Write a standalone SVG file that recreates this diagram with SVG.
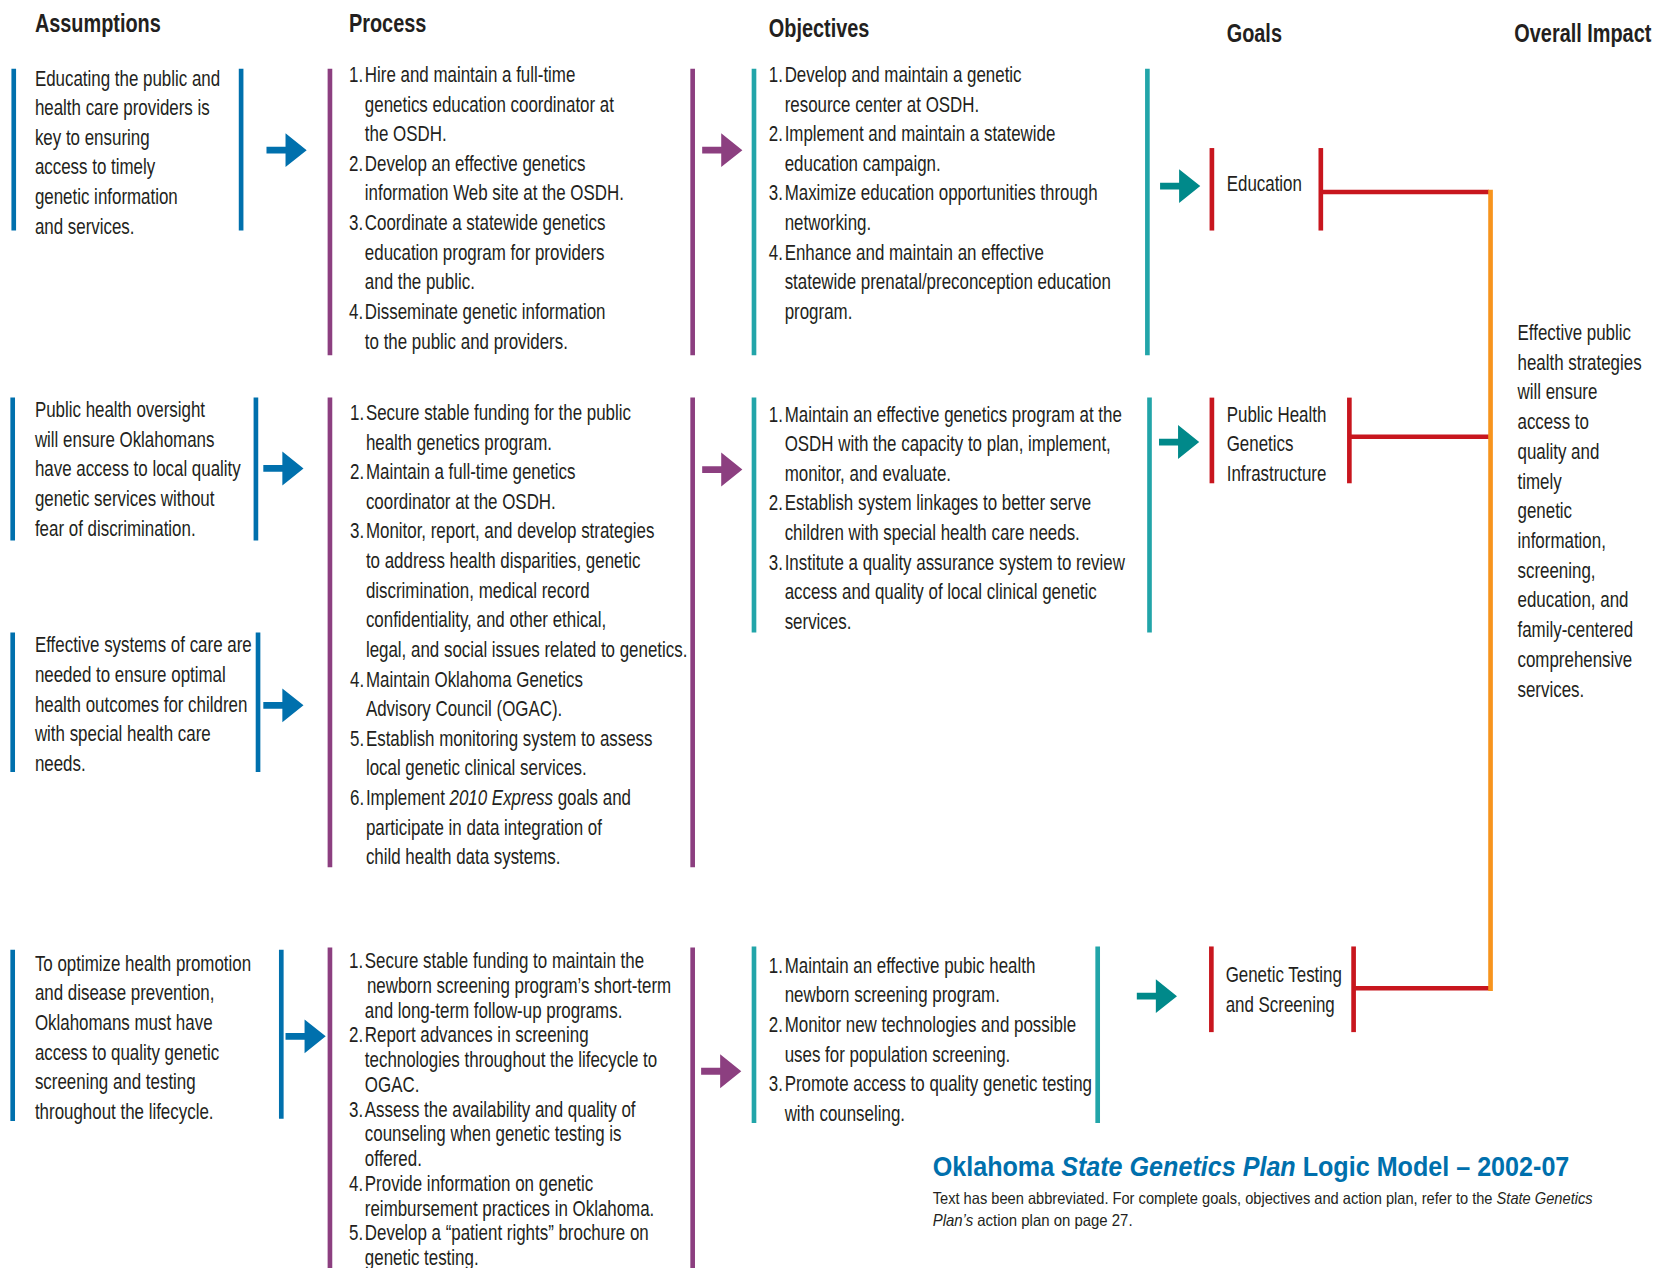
<svg xmlns="http://www.w3.org/2000/svg" width="1656" height="1268" viewBox="0 0 1656 1268">
<style>
.t{font-family:'Liberation Sans',Arial,sans-serif;font-size:20px;fill:#231f20}
.h{font-family:'Liberation Sans',Arial,sans-serif;font-size:23.5px;font-weight:bold;fill:#231f20}
.s{font-family:'Liberation Sans',Arial,sans-serif;font-size:16px;fill:#231f20}
.ttl{font-family:'Liberation Sans',Arial,sans-serif;font-size:27px;font-weight:bold;fill:#0070ad}
.i{font-style:italic}
.bb{stroke:#0070ad;stroke-width:4.4}
.bp{stroke:#8c3f80;stroke-width:4.4}
.bt{stroke:#22a5a9;stroke-width:4.4}
.br{stroke:#c8161e;stroke-width:4.4}
.lr{stroke:#c8161e;stroke-width:4.4;fill:none}
.lo{stroke:#f7941d;stroke-width:4.4;fill:none}
.ab{fill:#0070ad}
.ap{fill:#8c3f80}
.at{fill:#00898a}
</style>
<defs>
<path id="arr" d="M-38,-3.2 H-20 V-16 L0,0 L-20,16 V3.2 H-38 Z"/>
</defs>
<rect x="0" y="0" width="1656" height="1268" fill="#ffffff"/>
<g transform="scale(1.0575)">
<g id="headers">
<text class="h" transform="translate(33,0) scale(0.8,1)" x="0" y="30">Assumptions</text>
<text class="h" transform="translate(330,0) scale(0.8,1)" x="0" y="30">Process</text>
<text class="h" transform="translate(727,0) scale(0.8,1)" x="0" y="35">Objectives</text>
<text class="h" transform="translate(1160,0) scale(0.8,1)" x="0" y="40">Goals</text>
<text class="h" transform="translate(1432,0) scale(0.8,1)" x="0" y="40">Overall Impact</text>
</g>

<g id="assumption1">
<line class="bb" x1="13" y1="65" x2="13" y2="218"/>
<line class="bb" x1="228" y1="65" x2="228" y2="218"/>
<text class="t" transform="translate(33,0) scale(0.8,1)"><tspan x="0" y="81">Educating the public and</tspan><tspan x="0" y="109">health care providers is</tspan><tspan x="0" y="137">key to ensuring</tspan><tspan x="0" y="165">access to timely</tspan><tspan x="0" y="193">genetic information</tspan><tspan x="0" y="221">and services.</tspan></text>
</g>

<g id="process1">
<line class="bp" x1="312" y1="65" x2="312" y2="336"/>
<line class="bp" x1="655" y1="65" x2="655" y2="336"/>
<text class="t" transform="translate(330,0) scale(0.8,1)"><tspan x="0" y="77.6">1.</tspan><tspan x="18.75" y="77.6">Hire and maintain a full-time</tspan><tspan x="18.75" y="105.6">genetics education coordinator at</tspan><tspan x="18.75" y="133.6">the OSDH.</tspan><tspan x="0" y="161.6">2.</tspan><tspan x="18.75" y="161.6">Develop an effective genetics</tspan><tspan x="18.75" y="189.6">information Web site at the OSDH.</tspan><tspan x="0" y="217.6">3.</tspan><tspan x="18.75" y="217.6">Coordinate a statewide genetics</tspan><tspan x="18.75" y="245.6">education program for providers</tspan><tspan x="18.75" y="273.6">and the public.</tspan><tspan x="0" y="301.6">4.</tspan><tspan x="18.75" y="301.6">Disseminate genetic information</tspan><tspan x="18.75" y="329.6">to the public and providers.</tspan></text>
</g>

<g id="objectives1">
<line class="bt" x1="713" y1="65" x2="713" y2="336"/>
<line class="bt" x1="1085" y1="65" x2="1085" y2="336"/>
<text class="t" transform="translate(727,0) scale(0.8,1)"><tspan x="0" y="77.6">1.</tspan><tspan x="18.75" y="77.6">Develop and maintain a genetic</tspan><tspan x="18.75" y="105.6">resource center at OSDH.</tspan><tspan x="0" y="133.6">2.</tspan><tspan x="18.75" y="133.6">Implement and maintain a statewide</tspan><tspan x="18.75" y="161.6">education campaign.</tspan><tspan x="0" y="189.6">3.</tspan><tspan x="18.75" y="189.6">Maximize education opportunities through</tspan><tspan x="18.75" y="217.6">networking.</tspan><tspan x="0" y="245.6">4.</tspan><tspan x="18.75" y="245.6">Enhance and maintain an effective</tspan><tspan x="18.75" y="273.6">statewide prenatal/preconception education</tspan><tspan x="18.75" y="301.6">program.</tspan></text>
</g>

<g id="goal-education">
<line class="br" x1="1146" y1="140" x2="1146" y2="218"/>
<line class="br" x1="1249" y1="140" x2="1249" y2="218"/>
<text class="t" transform="translate(1160,0) scale(0.8,1)" x="0" y="180.5">Education</text>
</g>

<g id="assumption2">
<line class="bb" x1="12" y1="376" x2="12" y2="511"/>
<line class="bb" x1="242" y1="376" x2="242" y2="511"/>
<text class="t" transform="translate(33,0) scale(0.8,1)"><tspan x="0" y="394.5">Public health oversight</tspan><tspan x="0" y="422.5">will ensure Oklahomans</tspan><tspan x="0" y="450.5">have access to local quality</tspan><tspan x="0" y="478.5">genetic services without</tspan><tspan x="0" y="506.5">fear of discrimination.</tspan></text>
</g>

<g id="assumption3">
<line class="bb" x1="12" y1="598" x2="12" y2="730"/>
<line class="bb" x1="244" y1="598" x2="244" y2="730"/>
<text class="t" transform="translate(33,0) scale(0.8,1)"><tspan x="0" y="617">Effective systems of care are</tspan><tspan x="0" y="645">needed to ensure optimal</tspan><tspan x="0" y="673">health outcomes for children</tspan><tspan x="0" y="701">with special health care</tspan><tspan x="0" y="729">needs.</tspan></text>
</g>

<g id="process2">
<line class="bp" x1="312" y1="376" x2="312" y2="820"/>
<line class="bp" x1="655" y1="376" x2="655" y2="820"/>
<text class="t" transform="translate(331,0) scale(0.8,1)"><tspan x="0" y="397.2">1.</tspan><tspan x="18.75" y="397.2">Secure stable funding for the public</tspan><tspan x="18.75" y="425.2">health genetics program.</tspan><tspan x="0" y="453.2">2.</tspan><tspan x="18.75" y="453.2">Maintain a full-time genetics</tspan><tspan x="18.75" y="481.2">coordinator at the OSDH.</tspan><tspan x="0" y="509.2">3.</tspan><tspan x="18.75" y="509.2">Monitor, report, and develop strategies</tspan><tspan x="18.75" y="537.2">to address health disparities, genetic</tspan><tspan x="18.75" y="565.2">discrimination, medical record</tspan><tspan x="18.75" y="593.2">confidentiality, and other ethical,</tspan><tspan x="18.75" y="621.2">legal, and social issues related to genetics.</tspan><tspan x="0" y="649.2">4.</tspan><tspan x="18.75" y="649.2">Maintain Oklahoma Genetics</tspan><tspan x="18.75" y="677.2">Advisory Council (OGAC).</tspan><tspan x="0" y="705.2">5.</tspan><tspan x="18.75" y="705.2">Establish monitoring system to assess</tspan><tspan x="18.75" y="733.2">local genetic clinical services.</tspan><tspan x="0" y="761.2">6.</tspan><tspan x="18.75" y="761.2">Implement </tspan><tspan class="i">2010 Express</tspan><tspan> goals and</tspan><tspan x="18.75" y="789.2">participate in data integration of</tspan><tspan x="18.75" y="817.2">child health data systems.</tspan></text>
</g>

<g id="objectives2">
<line class="bt" x1="713" y1="376" x2="713" y2="598"/>
<line class="bt" x1="1087" y1="376" x2="1087" y2="598"/>
<text class="t" transform="translate(727,0) scale(0.8,1)"><tspan x="0" y="398.7">1.</tspan><tspan x="18.75" y="398.7">Maintain an effective genetics program at the</tspan><tspan x="18.75" y="426.7">OSDH with the capacity to plan, implement,</tspan><tspan x="18.75" y="454.7">monitor, and evaluate.</tspan><tspan x="0" y="482.7">2.</tspan><tspan x="18.75" y="482.7">Establish system linkages to better serve</tspan><tspan x="18.75" y="510.7">children with special health care needs.</tspan><tspan x="0" y="538.7">3.</tspan><tspan x="18.75" y="538.7">Institute a quality assurance system to review</tspan><tspan x="18.75" y="566.7">access and quality of local clinical genetic</tspan><tspan x="18.75" y="594.7">services.</tspan></text>
</g>

<g id="goal-infrastructure">
<line class="br" x1="1146" y1="376" x2="1146" y2="457"/>
<line class="br" x1="1276" y1="376" x2="1276" y2="457"/>
<text class="t" transform="translate(1160,0) scale(0.8,1)"><tspan x="0" y="398.7">Public Health</tspan><tspan x="0" y="426.7">Genetics</tspan><tspan x="0" y="454.7">Infrastructure</tspan></text>
</g>

<g id="assumption4">
<line class="bb" x1="12" y1="898" x2="12" y2="1060"/>
<line class="bb" x1="266" y1="898" x2="266" y2="1058"/>
<text class="t" transform="translate(33,0) scale(0.8,1)"><tspan x="0" y="918">To optimize health promotion</tspan><tspan x="0" y="946">and disease prevention,</tspan><tspan x="0" y="974">Oklahomans must have</tspan><tspan x="0" y="1002">access to quality genetic</tspan><tspan x="0" y="1030">screening and testing</tspan><tspan x="0" y="1058">throughout the lifecycle.</tspan></text>
</g>

<g id="process4">
<line class="bp" x1="312" y1="896" x2="312" y2="1200"/>
<line class="bp" x1="655" y1="896" x2="655" y2="1200"/>
<text class="t" transform="translate(330,0) scale(0.8,1)"><tspan x="0" y="915.6">1.</tspan><tspan x="18.75" y="915.6">Secure stable funding to maintain the</tspan><tspan x="21.25" y="939">newborn screening program’s short-term</tspan><tspan x="18.75" y="962.4">and long-term follow-up programs.</tspan><tspan x="0" y="985.8">2.</tspan><tspan x="18.75" y="985.8">Report advances in screening</tspan><tspan x="18.75" y="1009.2">technologies throughout the lifecycle to</tspan><tspan x="18.75" y="1032.6">OGAC.</tspan><tspan x="0" y="1056">3.</tspan><tspan x="18.75" y="1056">Assess the availability and quality of</tspan><tspan x="18.75" y="1079.4">counseling when genetic testing is</tspan><tspan x="18.75" y="1102.8">offered.</tspan><tspan x="0" y="1126.2">4.</tspan><tspan x="18.75" y="1126.2">Provide information on genetic</tspan><tspan x="18.75" y="1149.6">reimbursement practices in Oklahoma.</tspan><tspan x="0" y="1173">5.</tspan><tspan x="18.75" y="1173">Develop a “patient rights” brochure on</tspan><tspan x="18.75" y="1196.4">genetic testing.</tspan></text>
</g>

<g id="objectives4">
<line class="bt" x1="713" y1="895" x2="713" y2="1062"/>
<line class="bt" x1="1038" y1="895" x2="1038" y2="1062"/>
<text class="t" transform="translate(727,0) scale(0.8,1)"><tspan x="0" y="920">1.</tspan><tspan x="18.75" y="920">Maintain an effective pubic health</tspan><tspan x="18.75" y="948">newborn screening program.</tspan><tspan x="0" y="976">2.</tspan><tspan x="18.75" y="976">Monitor new technologies and possible</tspan><tspan x="18.75" y="1004">uses for population screening.</tspan><tspan x="0" y="1032">3.</tspan><tspan x="18.75" y="1032">Promote access to quality genetic testing</tspan><tspan x="18.75" y="1060">with counseling.</tspan></text>
</g>

<g id="goal-testing">
<line class="br" x1="1145.5" y1="895" x2="1145.5" y2="976"/>
<line class="br" x1="1280" y1="895" x2="1280" y2="976"/>
<text class="t" transform="translate(1159,0) scale(0.8,1)"><tspan x="0" y="928.6">Genetic Testing</tspan><tspan x="0" y="956.7">and Screening</tspan></text>
</g>

<g id="overall-impact">
<text class="t" transform="translate(1435,0) scale(0.8,1)"><tspan x="0" y="321.5">Effective public</tspan><tspan x="0" y="349.6">health strategies</tspan><tspan x="0" y="377.7">will ensure</tspan><tspan x="0" y="405.8">access to</tspan><tspan x="0" y="433.9">quality and</tspan><tspan x="0" y="462">timely</tspan><tspan x="0" y="490.1">genetic</tspan><tspan x="0" y="518.2">information,</tspan><tspan x="0" y="546.3">screening,</tspan><tspan x="0" y="574.4">education, and</tspan><tspan x="0" y="602.5">family-centered</tspan><tspan x="0" y="630.6">comprehensive</tspan><tspan x="0" y="658.7">services.</tspan></text>
</g>

<g id="connectors">
<use href="#arr" class="ab" transform="translate(290,142)"/>
<use href="#arr" class="ab" transform="translate(287,443)"/>
<use href="#arr" class="ab" transform="translate(287,667)"/>
<use href="#arr" class="ab" transform="translate(308,980)"/>
<use href="#arr" class="ap" transform="translate(702,142)"/>
<use href="#arr" class="ap" transform="translate(702,444)"/>
<use href="#arr" class="ap" transform="translate(701,1013)"/>
<use href="#arr" class="at" transform="translate(1135,176)"/>
<use href="#arr" class="at" transform="translate(1134,418)"/>
<use href="#arr" class="at" transform="translate(1113,942)"/>
<line class="lr" x1="1249" y1="181.6" x2="1408" y2="181.6"/>
<line class="lr" x1="1276" y1="413" x2="1408" y2="413"/>
<line class="lr" x1="1280" y1="934.5" x2="1408" y2="934.5"/>
<line class="lo" x1="1409.5" y1="179.5" x2="1409.5" y2="937"/>
</g>

<g id="title">
<text class="ttl" x="882" y="1112" textLength="602" lengthAdjust="spacingAndGlyphs">Oklahoma <tspan class="i">State Genetics Plan</tspan> Logic Model – 2002-07</text>
<text class="s" x="882" y="1138.5" textLength="624" lengthAdjust="spacingAndGlyphs">Text has been abbreviated. For complete goals, objectives and action plan, refer to the <tspan class="i">State Genetics</tspan></text>
<text class="s" x="882" y="1159" textLength="189" lengthAdjust="spacingAndGlyphs"><tspan class="i">Plan’s</tspan> action plan on page 27.</text>
</g>
</g>
</svg>
